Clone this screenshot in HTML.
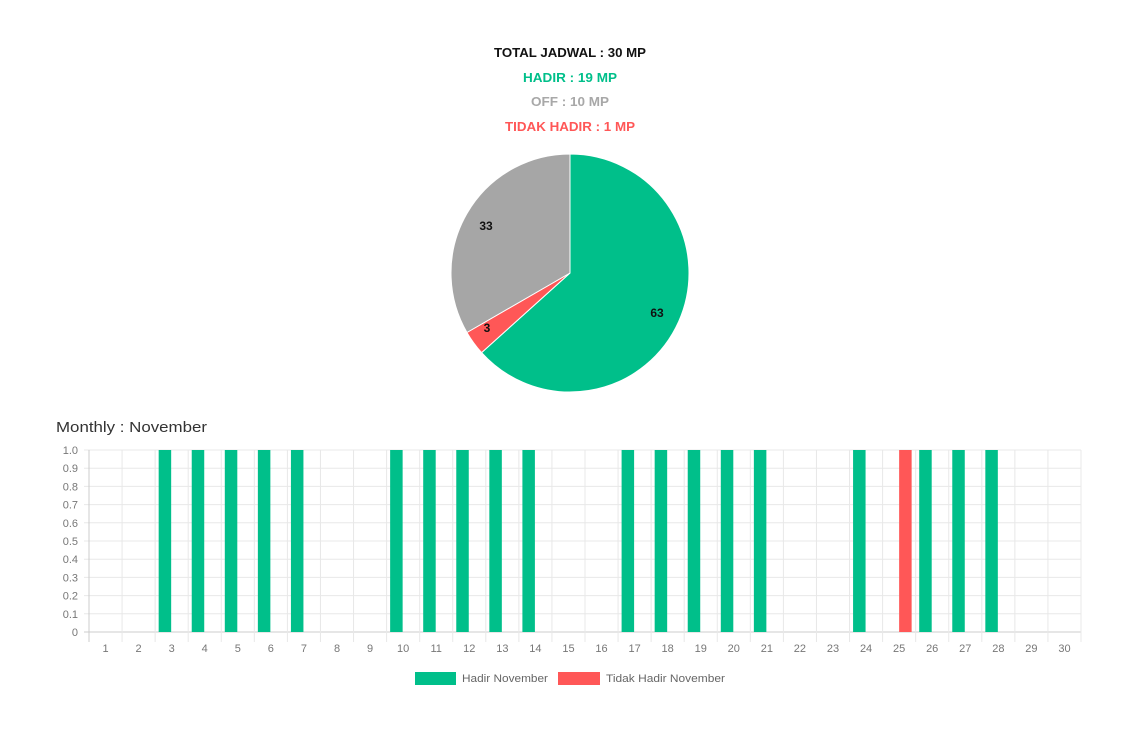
<!DOCTYPE html>
<html><head><meta charset="utf-8"><style>
html,body{margin:0;padding:0;background:#fff;width:1140px;height:739px;overflow:hidden}
svg{display:block}
</style></head><body>
<svg id="s" width="1140" height="739" xmlns="http://www.w3.org/2000/svg" font-family="Liberation Sans, sans-serif">
<g font-weight="bold" font-size="13" text-anchor="middle">
<text x="570" y="57" fill="#111" textLength="152" lengthAdjust="spacingAndGlyphs">TOTAL JADWAL : 30 MP</text>
<text x="570" y="82" fill="#00bf8a" textLength="94" lengthAdjust="spacingAndGlyphs">HADIR : 19 MP</text>
<text x="570" y="106" fill="#a8a8a8" textLength="78" lengthAdjust="spacingAndGlyphs">OFF : 10 MP</text>
<text x="570" y="131" fill="#ff5757" textLength="130" lengthAdjust="spacingAndGlyphs">TIDAK HADIR : 1 MP</text>
</g>
<g id="pie"></g>
<g font-size="12" font-weight="bold" fill="#111" text-anchor="middle">
<text x="657" y="317">63</text><text x="487" y="332">3</text><text x="486" y="230">33</text>
</g>
<text x="56" y="432" font-size="15" fill="#333" textLength="151" lengthAdjust="spacingAndGlyphs">Monthly : November</text>
<g id="chart"></g>
<rect x="415" y="672" width="41" height="13" fill="#00bf8a"/>
<text x="462" y="682" font-size="11" fill="#666" textLength="86" lengthAdjust="spacingAndGlyphs">Hadir November</text>
<rect x="558" y="672" width="42" height="13" fill="#ff5757"/>
<text x="606" y="682" font-size="11" fill="#666" textLength="119" lengthAdjust="spacingAndGlyphs">Tidak Hadir November</text>
</svg>
<script>
var NS="http://www.w3.org/2000/svg";
function el(p,t,a,txt){var e=document.createElementNS(NS,t);for(var k in a)e.setAttribute(k,a[k]);if(txt!=null)e.textContent=txt;p.appendChild(e);return e;}
var pie=document.getElementById('pie'),cx=570,cy=273,r=119;
function pt(d){var a=d*Math.PI/180;return [cx+r*Math.sin(a),cy-r*Math.cos(a)];}
function slice(a0,a1,c){var p0=pt(a0),p1=pt(a1);el(pie,'path',{d:'M'+cx+' '+cy+'L'+p0[0]+' '+p0[1]+'A'+r+' '+r+' 0 '+((a1-a0)>180?1:0)+' 1 '+p1[0]+' '+p1[1]+'Z',fill:c,stroke:'#fff','stroke-width':1});}
slice(0,228,'#00bf8a');slice(228,240,'#ff5757');slice(240,360,'#a6a6a6');
var g=document.getElementById('chart'),L=89,R=1081,T=450,B=632,w=(R-L)/30;
for(var i=0;i<=10;i++){var y=B-(B-T)*i/10;el(g,'line',{x1:L-5,x2:R,y1:y,y2:y,stroke:i==0?'#ccc':'#e8e8e8'});
el(g,'text',{x:78,y:y+4,'font-size':11,fill:'#777','text-anchor':'end'},i==0?'0':(i/10).toFixed(1));}
for(var i=0;i<=30;i++){var x=L+w*i;el(g,'line',{x1:x,x2:x,y1:T,y2:B+10,stroke:i==0?'#ccc':'#e8e8e8'});
if(i<30)el(g,'text',{x:x+w/2,y:652,'font-size':11,fill:'#777','text-anchor':'middle'},String(i+1));}
var green=[3,4,5,6,7,10,11,12,13,14,17,18,19,20,21,24,26,27,28];
green.forEach(function(d){var c=L+w*(d-0.5);el(g,'rect',{x:c-13,y:T,width:12.5,height:B-T,fill:'#00bf8a'});});
var c=L+w*24.5;el(g,'rect',{x:c,y:T,width:12.5,height:B-T,fill:'#ff5757'});
</script>
</body></html>
